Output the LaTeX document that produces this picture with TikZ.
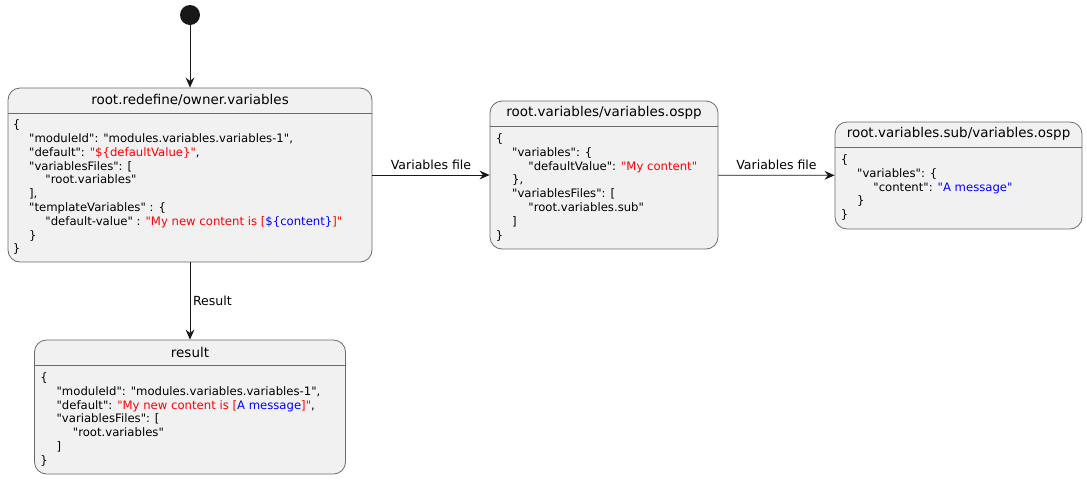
\documentclass[tikz,border=0pt]{standalone}
\usepackage{fontspec}
\setmainfont{DejaVu Sans}
\usetikzlibrary{positioning,arrows,arrows.meta}
\definecolor{statefill}{HTML}{F1F1F1}
\definecolor{stateline}{HTML}{6A6A6A}
\definecolor{arrowline}{HTML}{181818}
\newcommand\ind{\hspace*{12.2pt}}
\newcommand\qs[1]{\textquotedbl#1\textquotedbl}
\newcommand\strred[1]{\textcolor{red}{#1}}
\newcommand\strblue[1]{\textcolor{blue}{#1}}

\begin{document}
\begin{tikzpicture}
    [x=0.75pt,y=-0.75pt,>={Stealth[length=7.5pt,width=6.5pt,inset=2.5pt]},
     state/.style={rectangle,rounded corners=9pt,draw=stateline,fill=statefill,line width=0.6pt,inner sep=0pt},
     title/.style={font=\fontsize{10.1}{12}\selectfont,inner sep=0pt},
     body/.style={font=\fontsize{8.75}{10.35}\selectfont,align=left,inner sep=0pt,anchor=north west},
     lbl/.style={font=\fontsize{9.4}{11}\selectfont,inner sep=1pt},
     every edge/.style={draw=arrowline,line width=0.6pt}]
    \useasboundingbox (0,0) rectangle (1087,479);

    \node[circle,fill=arrowline,minimum size=15pt,inner sep=0pt] (start) at (190,15) {};

    % states
    \node[state,minimum width=273pt,minimum height=130.5pt] (redef) at (190,175) {}
      edge [<-] (start);
    \node[state,minimum width=171pt,minimum height=111pt] (ospp) at (604,175) {}
      edge [<-] node[lbl,above=3pt] {Variables file} (redef);
    \node[state,minimum width=185.25pt,minimum height=80.25pt] (subospp) at (958.5,175.5) {}
      edge [<-] node[lbl,above=3pt] {Variables file} (ospp);
    \node[state,minimum width=233.25pt,minimum height=100.5pt] (result) at (190,407) {}
      edge [<-] node[lbl,right=1pt] {Result} (redef);

    % separators
    \foreach \s in {redef,ospp,subospp,result}
      \draw[stateline,line width=0.6pt] ([yshift=-19.3pt]\s.north west) -- ([yshift=-19.3pt]\s.north east);

    % titles
    \node[title] (redeft) at ([yshift=-9pt]redef.north) {root.redefine/owner.variables};
    \node[title] (osppt) at ([yshift=-9.5pt]ospp.north) {root.variables/variables.ospp};
    \node[title] (subosppt) at ([yshift=-9.5pt]subospp.north) {root.variables.sub/variables.ospp};
    \node[title] (resultt) at ([yshift=-9.5pt]result.north) {result};

    % contents
    \node[body] (redefb) at ([xshift=3.8pt,yshift=-24pt]redef.north west) {%
      \{\\
      \ind\qs{moduleId}: \qs{modules.variables.variables-1},\\
      \ind\qs{default}: \strred{\qs{\$\{defaultValue\}}},\\
      \ind\qs{variablesFiles}: [\\
      \ind\ind\qs{root.variables}\\
      \ind],\\
      \ind\qs{templateVariables} : \{\\
      \ind\ind\qs{default-value} : \strred{\textquotedbl My new content is [}\strblue{\$\{content\}}\strred{]\textquotedbl}\\
      \ind\}\\
      \}};
    \node[body] (osppb) at ([xshift=4.5pt,yshift=-24.5pt]ospp.north west) {%
      \{\\
      \ind\qs{variables}: \{\\
      \ind\ind\qs{defaultValue}: \strred{\qs{My content}}\\
      \ind\},\\
      \ind\qs{variablesFiles}: [\\
      \ind\ind\qs{root.variables.sub}\\
      \ind]\\
      \}};
    \node[body] (subosppb) at ([xshift=4.5pt,yshift=-24.5pt]subospp.north west) {%
      \{\\
      \ind\qs{variables}: \{\\
      \ind\ind\qs{content}: \strblue{\qs{A message}}\\
      \ind\}\\
      \}};
    \node[body] (resultb) at ([xshift=4.5pt,yshift=-24.5pt]result.north west) {%
      \{\\
      \ind\qs{moduleId}: \qs{modules.variables.variables-1},\\
      \ind\qs{default}: \strred{\textquotedbl My new content is [}\strblue{A message}\strred{]\textquotedbl},\\
      \ind\qs{variablesFiles}: [\\
      \ind\ind\qs{root.variables}\\
      \ind]\\
      \}};

  \end{tikzpicture}
\end{document}
